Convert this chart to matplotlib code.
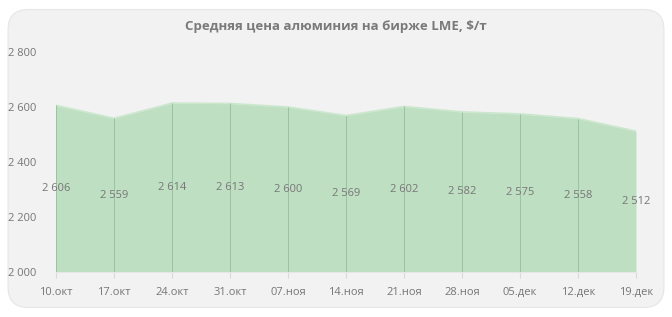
import matplotlib.pyplot as plt
from matplotlib.patches import FancyBboxPatch

plt.rcParams['font.family'] = ['Open Sans', 'DejaVu Sans']

dates = ['10.окт', '17.окт', '24.окт', '31.окт', '07.ноя', '14.ноя',
         '21.ноя', '28.ноя', '05.дек', '12.дек', '19.дек']
prices = [2606, 2559, 2614, 2613, 2600, 2569, 2602, 2582, 2575, 2558, 2512]
y_ticks = [2000, 2200, 2400, 2600, 2800]

fig = plt.figure(figsize=(6.72, 3.17), dpi=100)
fig.patch.set_facecolor('white')

# rounded grey background
bg = FancyBboxPatch((0.012, 0.03), 0.976, 0.94, boxstyle='round,pad=0,rounding_size=0.03',
                    transform=fig.transFigure, facecolor='#f2f2f2', edgecolor='#e6e6e6',
                    linewidth=0.8, mutation_aspect=672 / 317, zorder=-10)
fig.patches.append(bg)

ax = fig.add_axes([0.0833, 0.142, 0.8631, 0.694])
ax.set_facecolor('none')

x = list(range(len(dates)))
base = y_ticks[0]
ax.fill_between(x, base, prices, color='#bfdfc2', linewidth=0)
ax.plot(x, prices, color='#cbe7ce', linewidth=1.2)
ax.vlines(x, base, prices, color='#9cc2a0', linewidth=0.7)

for xi, v in zip(x, prices):
    ax.text(xi, (base + v) / 2, f'{v:,}'.replace(',', ' '), ha='center', va='center',
            fontsize=8, color='#767676')

ax.set_xlim(0, len(dates) - 1)
ax.set_ylim(2000, 2800)
ax.set_yticks(y_ticks)
ax.set_yticklabels([f'{t:,}'.replace(',', ' ') for t in y_ticks])
ax.set_xticks(x)
ax.set_xticklabels(dates)
ax.tick_params(axis='y', length=0, labelsize=8, labelcolor='#767676', pad=14)
ax.tick_params(axis='x', length=4, color='#d9d9d9', labelsize=8, labelcolor='#767676', pad=7)
for s in ax.spines.values():
    s.set_visible(False)
ax.spines['bottom'].set_visible(True)
ax.spines['bottom'].set_color('#e6e6e6')
ax.spines['bottom'].set_linewidth(0.8)

fig.text(0.5, 0.915, 'Средняя цена алюминия на бирже LME, $/т', ha='center', va='center',
         fontsize=9.5, fontweight='bold', color='#7a7a7a')

fig.savefig('out.png', dpi=100)
